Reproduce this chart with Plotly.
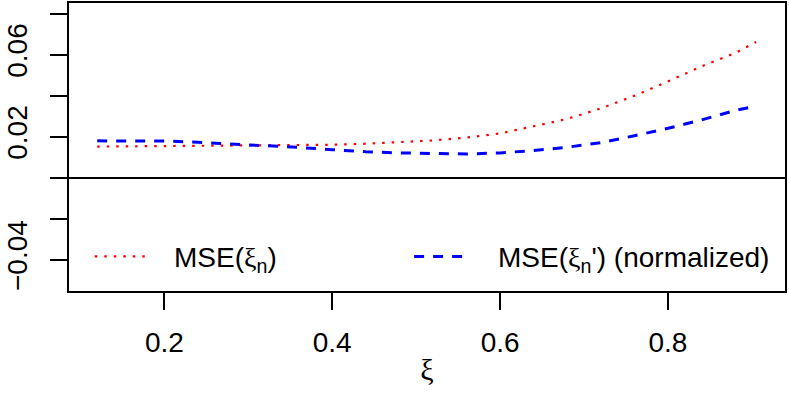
import plotly.graph_objects as go

# values
xi = [0.12, 0.16, 0.20, 0.24, 0.28, 0.32, 0.36, 0.40, 0.44, 0.48, 0.52,
      0.56, 0.60, 0.64, 0.68, 0.72, 0.76, 0.80, 0.84, 0.88, 0.905]
mse_xi = [0.0152, 0.0153, 0.0153, 0.0154, 0.0155, 0.0156, 0.0158, 0.0161,
          0.0166, 0.0173, 0.0182, 0.0196, 0.0216, 0.0251, 0.0287, 0.0338,
          0.0400, 0.0470, 0.0543, 0.0608, 0.0662]
mse_xi_norm = [0.0180, 0.0180, 0.0179, 0.0173, 0.0165, 0.0156, 0.0148, 0.0137,
               0.0127, 0.0121, 0.0117, 0.0116, 0.0121, 0.0133, 0.0149, 0.0171,
               0.0205, 0.0241, 0.0282, 0.0328, 0.0350]

y_ticks = [-0.04, -0.02, 0.0, 0.02, 0.04, 0.06, 0.08]
y_labels = ["\u22120.04", "", "", "0.02", "", "0.06", ""]
x_ticks = [0.2, 0.4, 0.6, 0.8]
x_labels = ["0.2", "0.4", "0.6", "0.8"]

XI = "<span style='font-family:Liberation Serif'>\u03be</span>"
legend_names = ["MSE(" + XI + "<sub>n</sub>)", "MSE(" + XI + "<sub>n</sub>') (normalized)"]

FONT = "Liberation Sans, Arial, sans-serif"
RED_DASH = "2.5px,7px"
BLUE_DASH = "10px,9px"

fig = go.Figure()
fig.add_trace(go.Scatter(x=xi, y=mse_xi, mode="lines",
                         line=dict(color="red", width=2.2, dash=RED_DASH)))
fig.add_trace(go.Scatter(x=xi, y=mse_xi_norm, mode="lines",
                         line=dict(color="blue", width=3, dash=BLUE_DASH)))

# hand made legend (R style, no box)
ly = 0.12
fig.add_shape(type="line", xref="paper", yref="paper", x0=0.036, x1=0.108,
              y0=ly, y1=ly, line=dict(color="red", width=2.2, dash=RED_DASH))
fig.add_shape(type="line", xref="paper", yref="paper", x0=0.482, x1=0.555,
              y0=ly, y1=ly, line=dict(color="blue", width=3, dash=BLUE_DASH))
fig.add_annotation(x=0.144, y=ly - 0.01, xref="paper", yref="paper", text=legend_names[0],
                   showarrow=False, xanchor="left", yanchor="middle",
                   font=dict(size=28, color="black", family=FONT))
fig.add_annotation(x=0.596, y=ly - 0.01, xref="paper", yref="paper", text=legend_names[1],
                   showarrow=False, xanchor="left", yanchor="middle",
                   font=dict(size=28, color="black", family=FONT))

axis_common = dict(showgrid=False, showline=True, linecolor="black", linewidth=1.5,
                   mirror=True, ticks="outside", ticklen=17, tickwidth=1.5,
                   tickcolor="black", automargin=False,
                   tickfont=dict(size=28, color="black", family=FONT))

fig.update_xaxes(range=[0.0864, 0.9394], tickvals=x_ticks, ticktext=x_labels,
                 zeroline=False, ticklabelstandoff=9,
                 title=dict(text="\u03be", font=dict(size=30, family="Liberation Serif", color="black"),
                            standoff=2),
                 **axis_common)
fig.update_yaxes(range=[-0.0552, 0.0852], tickvals=y_ticks, ticktext=y_labels,
                 tickangle=-90, zeroline=True, zerolinecolor="black", zerolinewidth=1.5,
                 ticklabelstandoff=12, **axis_common)

fig.update_layout(width=789, height=395, showlegend=False,
                  plot_bgcolor="white", paper_bgcolor="white",
                  margin=dict(l=69, r=4, t=3, b=104),
                  font=dict(family=FONT, color="black"))

# drop the browser's default 8px body margin so the figure sits at (0, 0)
fig.write_html("out.html", config={"displayModeBar": False},
               post_script="document.body.style.margin='0';")
